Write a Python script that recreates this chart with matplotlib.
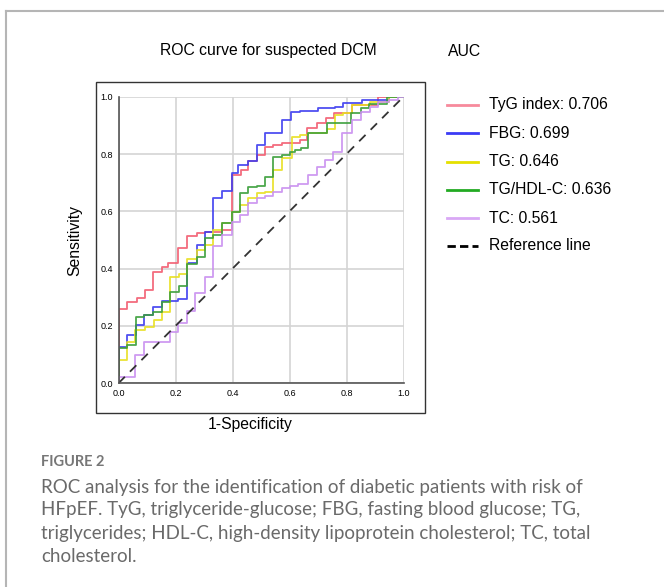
import matplotlib
matplotlib.use("Agg")
import matplotlib.pyplot as plt
from matplotlib.lines import Line2D
from matplotlib.patches import Rectangle

# ROC curves: (1-specificity, sensitivity) at each vertical step
tyg_fpr = [0, 0, 0.031, 0.064, 0.093, 0.122, 0.152, 0.175, 0.210, 0.239, 0.274, 0.304, 0.362,
           0.397, 0.430, 0.455, 0.485, 0.514, 0.543, 0.573, 0.637, 0.663, 0.695, 0.728, 0.757,
           0.818, 0.912, 1.0]
tyg_tpr = [0, 0.258, 0.285, 0.296, 0.325, 0.387, 0.407, 0.418, 0.473, 0.515, 0.523, 0.529, 0.535,
           0.727, 0.745, 0.776, 0.795, 0.823, 0.831, 0.839, 0.849, 0.890, 0.907, 0.925, 0.942,
           0.971, 1.0, 1.0]

fbg_fpr = [0, 0, 0.029, 0.060, 0.091, 0.122, 0.152, 0.210, 0.241, 0.274, 0.304, 0.333, 0.362,
           0.397, 0.420, 0.456, 0.485, 0.514, 0.545, 0.573, 0.604, 0.637, 0.700, 0.760, 0.789,
           0.853, 0.950, 1.0]
fbg_tpr = [0, 0.127, 0.167, 0.203, 0.238, 0.267, 0.287, 0.293, 0.418, 0.482, 0.529, 0.645, 0.672,
           0.733, 0.762, 0.776, 0.831, 0.872, 0.875, 0.919, 0.945, 0.951, 0.960, 0.965, 0.977,
           0.990, 1.0, 1.0]

tg_fpr = [0, 0, 0.029, 0.058, 0.094, 0.123, 0.152, 0.181, 0.211, 0.240, 0.275, 0.304, 0.333,
          0.362, 0.397, 0.426, 0.456, 0.485, 0.514, 0.543, 0.573, 0.608, 0.637, 0.666, 0.730,
          0.760, 0.789, 0.818, 0.882, 0.950, 1.0]
tg_tpr = [0, 0.081, 0.145, 0.186, 0.197, 0.221, 0.250, 0.372, 0.381, 0.432, 0.465, 0.482, 0.535,
          0.558, 0.599, 0.622, 0.645, 0.663, 0.668, 0.745, 0.785, 0.861, 0.866, 0.874, 0.886,
          0.936, 0.942, 0.971, 0.983, 1.0, 1.0]

tghdl_fpr = [0, 0, 0.031, 0.060, 0.091, 0.122, 0.152, 0.181, 0.211, 0.240, 0.274, 0.304, 0.333,
             0.362, 0.397, 0.426, 0.456, 0.485, 0.514, 0.543, 0.573, 0.600, 0.620, 0.640, 0.666,
             0.695, 0.730, 0.815, 0.850, 0.880, 0.941, 1.0]
tghdl_tpr = [0, 0.122, 0.133, 0.232, 0.238, 0.250, 0.284, 0.319, 0.340, 0.415, 0.442, 0.506, 0.517,
             0.558, 0.599, 0.663, 0.686, 0.690, 0.721, 0.791, 0.796, 0.806, 0.815, 0.822, 0.872,
             0.874, 0.907, 0.942, 0.960, 0.975, 1.0, 1.0]

tc_fpr = [0, 0, 0.058, 0.091, 0.181, 0.210, 0.239, 0.268, 0.304, 0.333, 0.362, 0.397, 0.426,
          0.456, 0.485, 0.514, 0.543, 0.573, 0.600, 0.630, 0.666, 0.695, 0.725, 0.754, 0.785,
          0.818, 0.850, 0.882, 0.912, 0.950, 0.980, 1.0]
tc_tpr = [0, 0.023, 0.098, 0.145, 0.180, 0.209, 0.252, 0.314, 0.372, 0.480, 0.517, 0.564, 0.587,
          0.628, 0.645, 0.655, 0.668, 0.680, 0.688, 0.694, 0.727, 0.756, 0.779, 0.808, 0.872,
          0.919, 0.945, 0.965, 0.983, 0.990, 1.0, 1.0]

labels = ["TyG index: 0.706", "FBG: 0.699", "TG: 0.646", "TG/HDL-C: 0.636", "TC: 0.561"]
line_colors = ["#f25c70", "#3c3cf0", "#e8e020", "#3a9e3a", "#c990f0"]
legend_colors = ["#f78a9c", "#3b3bf5", "#e5e000", "#22aa22", "#d9a8f5"]
ticks = [0.0, 0.2, 0.4, 0.6, 0.8, 1.0]

caption = ["ROC analysis for the identification of diabetic patients with risk of",
           "HFpEF. TyG, triglyceride-glucose; FBG, fasting blood glucose; TG,",
           "triglycerides; HDL-C, high-density lipoprotein cholesterol; TC, total",
           "cholesterol."]

W, H = 664, 587
plt.rcParams["font.family"] = ["Liberation Sans", "DejaVu Sans"]
fig = plt.figure(figsize=(W / 100, H / 100), dpi=100)


def fx(px):
    return px / W


def fy(py):
    return 1 - py / H


# page frame and the chart box
fig.add_artist(Line2D([fx(6), 1], [fy(11), fy(11)], color="#b5b5b5", lw=1.5))
fig.add_artist(Line2D([fx(6), fx(6)], [fy(11), 0], color="#b5b5b5", lw=1.5))
fig.add_artist(Rectangle((fx(96), fy(413)), fx(425) - fx(96), fy(82) - fy(413),
                         fill=False, ec="#333", lw=1.0))

ax = fig.add_axes([fx(118.5), fy(383.2), fx(403.5) - fx(118.5), fy(96.7) - fy(383.2)])
curves = [(tyg_fpr, tyg_tpr), (fbg_fpr, fbg_tpr), (tg_fpr, tg_tpr),
          (tghdl_fpr, tghdl_tpr), (tc_fpr, tc_tpr)]
for (xs, ys), c in zip(curves, line_colors):
    ax.step(xs, ys, where="post", color=c, lw=1.3, alpha=0.9)
ax.plot([0, 1], [0, 1], color="#333", ls=(0, (5, 4)), lw=1.3)

ax.set_xlim(0, 1)
ax.set_ylim(0, 1)
ax.set_xticks(ticks)
ax.set_yticks(ticks)
ax.set_xticklabels([f"{t:.1f}" for t in ticks], fontsize=6.5)
ax.set_yticklabels([f"{t:.1f}" for t in ticks], fontsize=6.5)
ax.tick_params(length=0, pad=4)
ax.grid(True, color="#d4d4d4", lw=1.2)
ax.set_axisbelow(True)
for s in ["top", "right"]:
    ax.spines[s].set_visible(False)
for s in ["left", "bottom"]:
    ax.spines[s].set_color("#555")
    ax.spines[s].set_linewidth(1.2)

fig.text(fx(268.5), fy(51), "ROC curve for suspected DCM", fontsize=11.3, ha="center", va="center")
fig.text(fx(465), fy(51), "AUC", fontsize=11.3, ha="center", va="center")
fig.text(fx(250), fy(424), "1-Specificity", fontsize=11.3, ha="center", va="center")
fig.text(fx(75), fy(240), "Sensitivity", fontsize=11.3, ha="center", va="center", rotation=90)

# legend drawn by hand so rows land where the original has them
row_y = [105, 133, 162, 190, 218, 246]
for i, (lab, c) in enumerate(zip(labels, legend_colors)):
    fig.add_artist(Line2D([fx(447), fx(478)], [fy(row_y[i])] * 2, color=c, lw=2))
    fig.text(fx(489), fy(row_y[i]), lab, fontsize=11.3, va="center")
fig.add_artist(Line2D([fx(447), fx(478)], [fy(row_y[5])] * 2, color="black", lw=2,
                      ls=(0, (3, 1.5))))
fig.text(fx(489), fy(row_y[5]), "Reference line", fontsize=11.3, va="center")

# caption
fig.text(fx(41), fy(462), "FIGURE 2", fontsize=10.5, color="#777", va="center",
         family="Lato", weight="bold")
for i, line in enumerate(caption):
    fig.text(fx(41), fy(487 + 23 * i), line, fontsize=13.5, color="#6a6a6a", va="center",
             family="Lato")

fig.savefig("out.png", dpi=100)
